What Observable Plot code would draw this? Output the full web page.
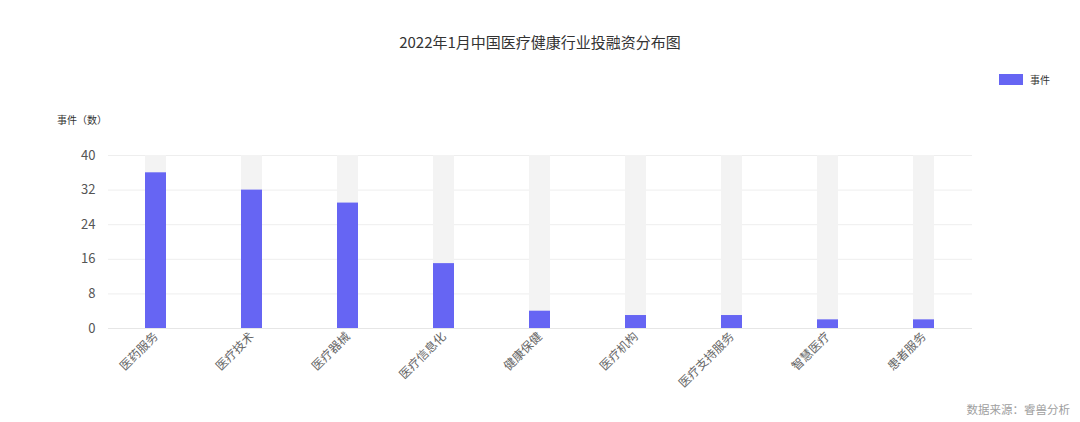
<!DOCTYPE html>
<html>
<head>
<meta charset="utf-8">
<script src="https://cdn.jsdelivr.net/npm/d3@7"></script>
<script src="https://cdn.jsdelivr.net/npm/@observablehq/plot@0.6"></script>
<style>
  html, body { margin: 0; padding: 0; background: #fff; }
  body { width: 1080px; height: 422px; overflow: hidden; font-family: "Noto Sans CJK SC", "Noto Sans", sans-serif; }
  #wrap { position: relative; width: 1080px; height: 422px; }
  .abs { position: absolute; white-space: nowrap; line-height: 1; }
  #title { left: 0; width: 1080px; top: 34px; text-align: center; font-size: 15px; color: #333; }
  #ylabel { left: 57px; top: 115px; font-size: 10px; color: #333; }
  #legend { left: 999px; top: 74px; font-size: 10px; color: #333; display: flex; align-items: center; }
  #legend .sw { width: 24px; height: 11px; background: #6665f3; margin-right: 7px; }
  #caption { right: 10px; top: 404px; font-size: 11.5px; color: #a0a0a0; }
  #chart { position: absolute; left: 0; top: 0; }
</style>
</head>
<body>
<div id="wrap">
  <div id="chart"></div>
  <div id="title" class="abs">2022年1月中国医疗健康行业投融资分布图</div>
  <div id="ylabel" class="abs">事件（数）</div>
  <div id="legend" class="abs"><span class="sw"></span><span>事件</span></div>
  <div id="caption" class="abs">数据来源：睿兽分析</div>
</div>
<script>
const categories = ["医药服务", "医疗技术", "医疗器械", "医疗信息化", "健康保健", "医疗机构", "医疗支持服务", "智慧医疗", "患者服务"];
const events = [36, 32, 29, 15, 4, 3, 3, 2, 2];
const yTicks = [0, 8, 16, 24, 32, 40];
const yMax = 40;

const data = categories.map((c, i) => ({category: c, value: events[i], full: yMax}));

const chart = Plot.plot({
  width: 1080,
  height: 422,
  marginLeft: 108,
  marginRight: 108,
  marginTop: 155,
  marginBottom: 94,
  style: {fontFamily: '"Noto Sans CJK SC", "Noto Sans", sans-serif', background: "transparent"},
  x: {domain: categories, paddingInner: 0.78, paddingOuter: 0.39, label: null},
  y: {domain: [0, yMax], ticks: yTicks, label: null},
  marks: [
    Plot.gridY(yTicks, {stroke: "#eeeeee", strokeOpacity: 1}),
    Plot.barY(data, {x: "category", y: "full", fill: "#f3f3f3"}),
    Plot.barY(data, {x: "category", y: "value", fill: "#6665f3"}),
    Plot.ruleY([0], {stroke: "#e6e6e6"}),
    Plot.axisY(yTicks, {tickSize: 0, tickPadding: 13, fontSize: 13, fill: "#555", label: null}),
    Plot.axisX({tickSize: 0, tickPadding: 6, tickRotate: -45, fontSize: 12, fill: "#666", label: null})
  ]
});
document.getElementById("chart").appendChild(chart);
</script>
</body>
</html>
